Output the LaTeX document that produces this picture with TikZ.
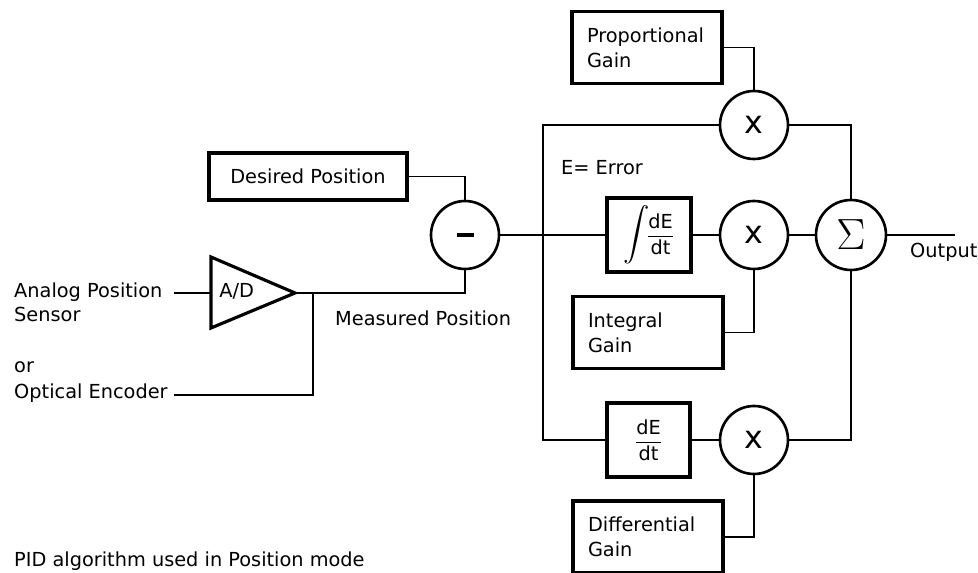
\documentclass[tikz,border=0pt]{standalone}
\usepackage{fontspec}
\setmainfont{DejaVu Sans}
\usepackage{tikz}
\usetikzlibrary{positioning, calc}

\begin{document}
\begin{tikzpicture}[x=0.02cm, y=-0.02cm, font=\fontsize{11}{14.2}\selectfont,
    blk/.style={draw, line width=1.8pt, inner sep=0pt},
    gainbox/.style={blk, minimum width=3cm, minimum height=1.44cm, text width=2.4cm, align=left},
    op/.style={circle, draw, line width=1.5pt, minimum size=1.36cm, inner sep=0pt},
    wire/.style={line width=0.75pt}]
  \useasboundingbox (0,0) rectangle (978,573);

  % inputs
  \node[anchor=base west, align=left] (analog) at (8,322) {Analog Position\\Sensor};
  \node[anchor=base west] (orlbl) at (8,373) {or};
  \node[anchor=base west] (optical) at (8,399) {Optical Encoder};
  \coordinate (sensorend) at (174,293);
  \coordinate (encend) at (174,395);

  % A/D converter
  \coordinate (adin) at (211,293);
  \coordinate (adout) at (295,293);
  \draw[line width=1.8pt, line join=miter] (211,257) -- (adout) -- (211,328) -- cycle;
  \node[anchor=west, inner sep=0pt] (adlbl) at (219,291) {A/D};
  \coordinate (tap) at (313,293);

  % comparator
  \node[blk, minimum width=3.96cm, minimum height=0.94cm] (dpos) at (308,176.5) {Desired Position};
  \node[op] (minus) at (465,235) {\rule{0.34cm}{0.075cm}};
  \node[anchor=base west] (meas) at (329,326) {Measured Position};
  \node[anchor=base west] (errlbl) at (555,175) {E= Error};
  \coordinate (split) at (543,235);

  % P, I, D branches
  \node[gainbox] (pgain) at (647,47.5) {Proportional\\Gain};
  \node[op] (ptimes) at (754,125) {\fontsize{18}{20}\selectfont x};

  \node[blk, minimum width=1.68cm, minimum height=1.48cm] (ibox) at (649,235)
    {\raisebox{-0.5pt}{\scalebox{1.5}{$\displaystyle\int$}}$\!\displaystyle\frac{\mbox{dE}}{\mbox{dt}}$};
  \node[op] (itimes) at (754,235) {\fontsize{18}{20}\selectfont x};
  \node[gainbox] (igain) at (648,332.5) {Integral\\Gain};

  \node[blk, minimum width=1.66cm, minimum height=1.48cm] (dbox) at (648.5,440)
    {$\displaystyle\frac{\mbox{dE}}{\mbox{dt}}$};
  \node[op] (dtimes) at (754,440) {\fontsize{18}{20}\selectfont x};
  \node[gainbox] (dgain) at (648,537) {Differential\\Gain};

  % summing junction
  \node[op, minimum size=1.4cm] (sum) at (851,235) {\fontsize{24}{28}\selectfont$\Sigma$};
  \coordinate (outend) at (955,235);
  \node[anchor=base west] (outlbl) at (904,258) {Output};

  \node[anchor=base west] (caption) at (8,567) {PID algorithm used in Position mode};

  % wiring
  \draw[wire] (sensorend) -- (adin);
  \draw[wire] (adout) -| (minus.south);
  \draw[wire] (tap) |- (encend);
  \draw[wire] (dpos.east) -| (minus.north);
  \draw[wire] (minus.east) -- (ibox.west);
  \draw[wire] (split) |- (ptimes.west);
  \draw[wire] (split) |- (dbox.west);
  \draw[wire] (pgain.east) -| (ptimes.north);
  \draw[wire] (ibox.east) -- (itimes.west);
  \draw[wire] (igain.east) -| (itimes.south);
  \draw[wire] (dbox.east) -- (dtimes.west);
  \draw[wire] (dgain.east) -| (dtimes.south);
  \draw[wire] (ptimes.east) -| (sum.north);
  \draw[wire] (itimes.east) -- (sum.west);
  \draw[wire] (dtimes.east) -| (sum.south);
  \draw[wire] (sum.east) -- (outend);
\end{tikzpicture}
\end{document}
